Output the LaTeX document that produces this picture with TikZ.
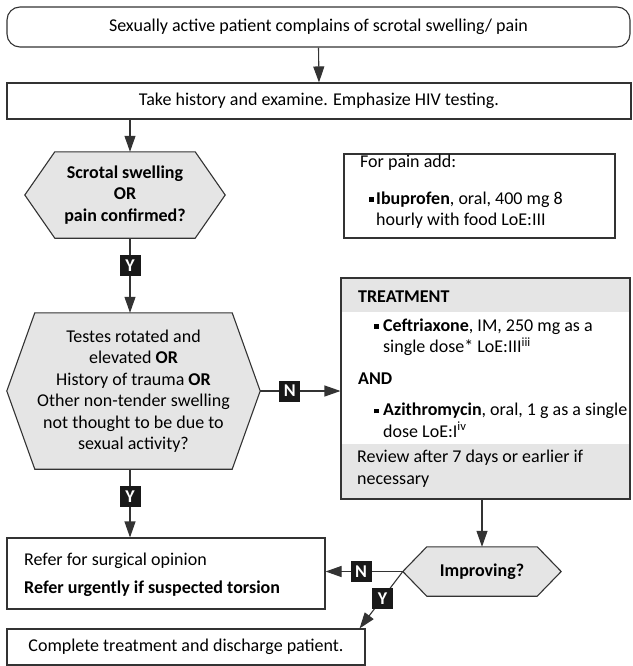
\documentclass[tikz,border=0pt]{standalone}
\usepackage{fontspec}
\setmainfont{Carlito}
\usetikzlibrary{arrows.meta,backgrounds}

\newcommand{\bodyfont}{\fontsize{18}{21.5}\selectfont}
\newcommand{\sqbullet}[2]{\makebox[#2][l]{\hspace*{#1}\rule[2.5pt]{4.5pt}{4.5pt}}}
\newcommand{\hexoutline}[2]{%
  \path[hexline] (#1.west) -- ([xshift=#2]#1.north west) -- ([xshift=-#2]#1.north east)
    -- (#1.east) -- ([xshift=-#2]#1.south east) -- ([xshift=#2]#1.south west) -- cycle;}

\tikzset{
  arr/.style={draw=black!80, line width=1.1pt, -{Triangle[length=16pt,width=11pt]}},
  box/.style={draw=black!80, line width=1.1pt, inner sep=0pt},
  hexline/.style={draw=black!80, line width=1.1pt, fill=gray!20},
  hexnode/.style={inner sep=0pt, align=center},
  body/.style={inner sep=0pt, align=left, anchor=west},
  tag/.style={fill=black!90, text=white, font=\bodyfont\bfseries, inner sep=0pt,
    minimum width=21pt, minimum height=21pt},
}

\begin{document}
\begin{tikzpicture}[x=1pt, y=-1pt, font=\bodyfont]
\useasboundingbox (0,0) rectangle (632,666);

\node[box, rounded corners=13pt, minimum width=623pt, minimum height=40pt] (start) at (318.5,27)
  {Sexually active patient complains of scrotal swelling/ pain};
\node[box, minimum width=624pt, minimum height=36pt] (hist) at (319,101)
  {Take history and examine. Emphasize HIV testing.};

\node[hexnode, minimum width=200pt, minimum height=86pt] (ask) at (125,195)
  {\textbf{Scrotal swelling}\\\textbf{OR}\\\textbf{pain confirmed?}};
\node[hexnode, minimum width=253pt, minimum height=156pt] (check) at (133.5,391)
  {Testes rotated and\\elevated \textbf{OR}\\History of trauma \textbf{OR}\\Other non-tender swelling\\not thought to be due to\\sexual activity?};
\node[hexnode, minimum width=158pt, minimum height=49pt] (imp) at (482,571.5)
  {\textbf{Improving?}};

\node[box, minimum width=271pt, minimum height=84pt] (pain) at (479.5,196) {};
\node[body] (paintext) at (360,192)
  {For pain add:\\[15pt]\sqbullet{9pt}{16pt}\textbf{Ibuprofen}, oral, 400 mg 8\\\hspace*{16pt}hourly with food LoE:III};

\node[box, minimum width=289pt, minimum height=221pt] (treat) at (485.5,388.5) {};
\node[body] (treathead) at (358,297) {\textbf{TREATMENT}};
\node[body] (treatbody) at (358,378)
  {\sqbullet{16pt}{25pt}\textbf{Ceftriaxone}, IM, 250 mg as a\\\hspace*{25pt}single dose* LoE:III\textsuperscript{iii}\\[10pt]
   \textbf{AND}\\[10pt]
   \sqbullet{16pt}{25pt}\textbf{Azithromycin}, oral, 1 g as a single\\\hspace*{25pt}dose LoE:I\textsuperscript{iv}};
\node[body] (review) at (357,468.5) {Review after 7 days or earlier if\\necessary};

\node[box, minimum width=318pt, minimum height=71pt] (refer) at (166,573.5) {};
\node[body] (refertext) at (24,574.5)
  {Refer for surgical opinion\\[6.5pt]\textbf{Refer urgently if suspected torsion}};
\node[box, minimum width=358pt, minimum height=36pt] (done) at (186,647)
  {Complete treatment and discharge patient.};

\begin{scope}[on background layer]
\hexoutline{ask}{30pt}
\hexoutline{check}{28pt}
\hexoutline{imp}{24pt}
\fill[gray!20] (treat.north west) rectangle ([yshift=-35pt]treat.north east);
\fill[gray!20] (treat.south west) rectangle ([yshift=56pt]treat.south east);
\end{scope}

\coordinate (colA) at (130,0);
\draw[arr] (start.south) -- (hist.north);
\draw[arr] (hist.south -| colA) -- (ask.north -| colA);
\draw[arr] (ask.south -| colA) -- node[tag, pos=0.37] (y1) {Y} (check.north -| colA);
\draw[arr] (check.east) -- node[tag, pos=0.37] (n1) {N} (treat.west |- check.east);
\draw[arr] (check.south -| colA) -- node[tag, pos=0.4] (y2) {Y} (refer.north -| colA);
\draw[arr] (treat.south -| imp.north) -- (imp.north);
\draw[arr] (imp.west) -- node[tag, pos=0.54] (n2) {N} (refer.east |- imp.west);
\draw[arr] (imp.west) -- node[tag, pos=0.47] (y3) {Y} ([xshift=-6pt]done.north east);
\end{tikzpicture}
\end{document}
